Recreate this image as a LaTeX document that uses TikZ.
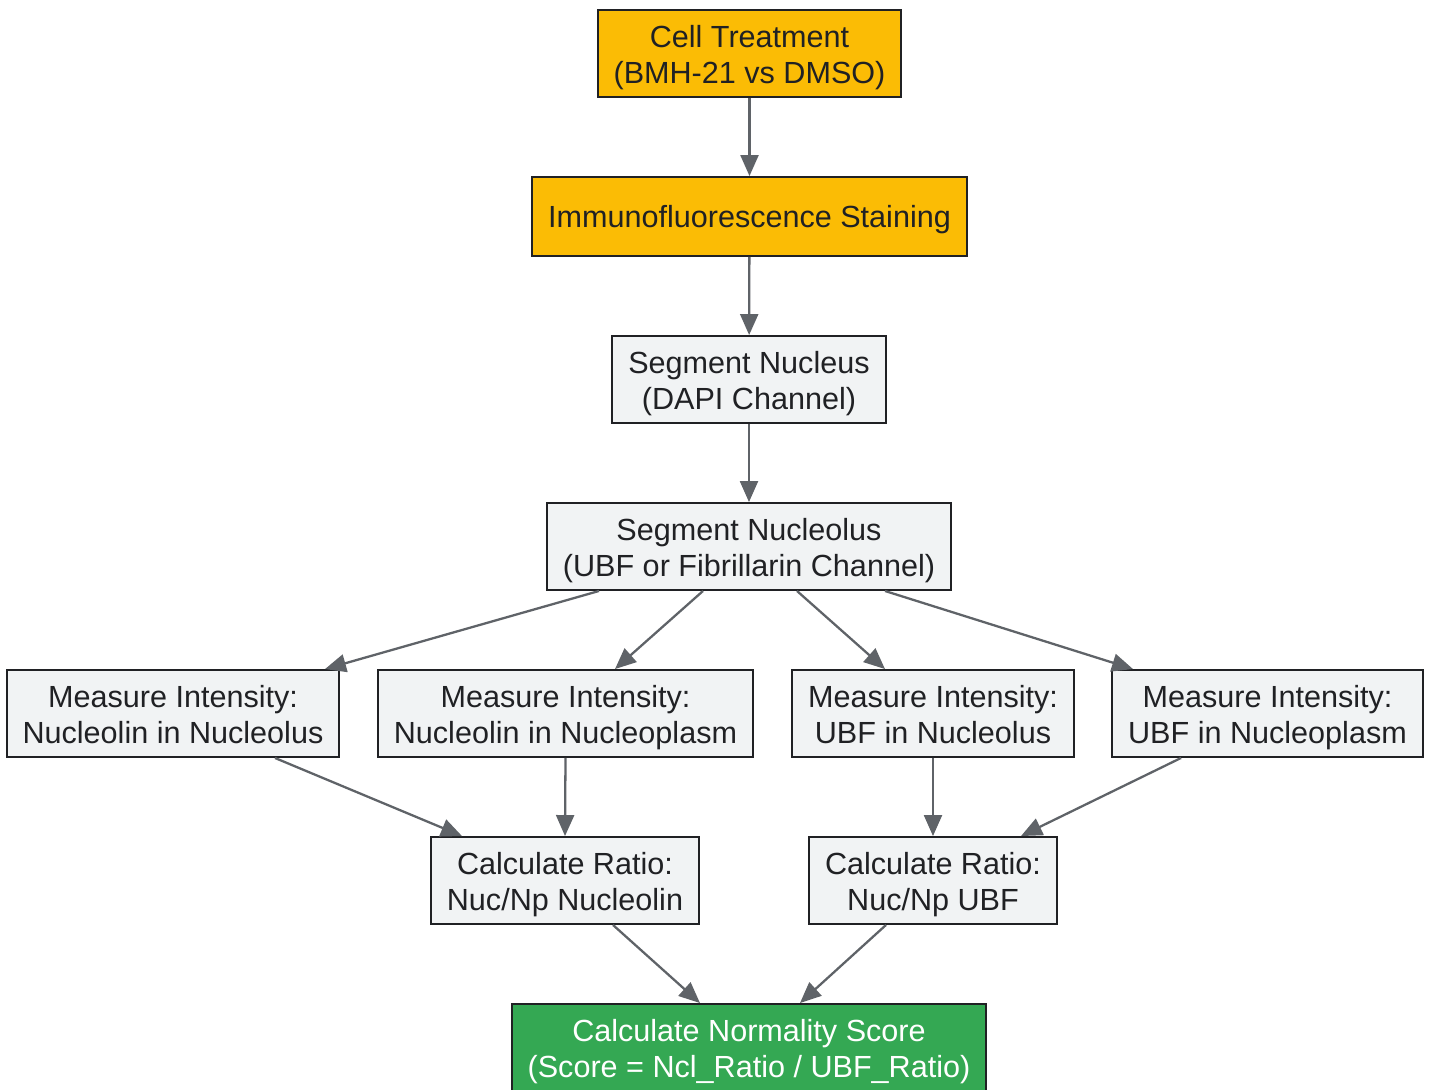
\documentclass[tikz,border=0pt]{standalone}
\usepackage{fontspec}
\setmainfont{Liberation Sans}
\usetikzlibrary{arrows.meta}

\definecolor{stepyellow}{HTML}{FBBC05}
\definecolor{stepgreen}{HTML}{34A853}
\definecolor{stepgray}{HTML}{F1F3F4}
\definecolor{stepline}{HTML}{202124}
\definecolor{flowgray}{HTML}{5F6368}

\tikzset{
    box/.style={draw=stepline, line width=1.1pt, text=stepline, align=center,
        minimum height=1.74cm, inner xsep=0.32cm,
        text height=33.6pt, text depth=0pt,
        font=\fontsize{17.4}{20}\selectfont},
    oneline/.style={minimum height=1.58cm, text height=12.6pt},
    prep/.style={box, fill=stepyellow},
    measure/.style={box, fill=stepgray},
    result/.style={box, fill=stepgreen, text=white},
    flow/.style={draw=flowgray, line width=1.3pt,
        -{Triangle[length=0.42cm, width=0.36cm]}}
}

\begin{document}
\begin{tikzpicture}
        \useasboundingbox (0,0) rectangle (28.62,-21.78);
        \node[prep] (treat) at (14.99,-1.07) {Cell Treatment\\(BMH-21 vs DMSO)};
        \node[prep, oneline] (stain) at (14.99,-4.33) {Immunofluorescence Staining};
        \node[measure] (nucleus) at (14.98,-7.59) {Segment Nucleus\\(DAPI Channel)};
        \node[measure] (nucleolus) at (14.98,-10.93) {Segment Nucleolus\\(UBF or Fibrillarin Channel)};
        \node[measure] (ncl_no) at (3.46,-14.27) {Measure Intensity:\\Nucleolin in Nucleolus};
        \node[measure] (ncl_np) at (11.31,-14.27) {Measure Intensity:\\Nucleolin in Nucleoplasm};
        \node[measure] (ubf_no) at (18.66,-14.27) {Measure Intensity:\\UBF in Nucleolus};
        \node[measure] (ubf_np) at (25.35,-14.27) {Measure Intensity:\\UBF in Nucleoplasm};
        \node[measure] (ncl_ratio) at (11.30,-17.61) {Calculate Ratio:\\Nuc/Np Nucleolin};
        \node[measure] (ubf_ratio) at (18.66,-17.61) {Calculate Ratio:\\Nuc/Np UBF};
        \node[result] (score) at (14.98,-20.95) {Calculate Normality Score\\(Score = Ncl\_Ratio / UBF\_Ratio)};
        \draw[flow] (treat) -- (stain);
        \draw[flow] (stain) -- (nucleus);
        \draw[flow] (nucleus) -- (nucleolus);
        \draw[flow] ([xshift=-3cm]nucleolus.south) -- ([xshift=3.04cm]ncl_no.north);
        \draw[flow] ([xshift=-0.92cm]nucleolus.south) -- ([xshift=0.99cm]ncl_np.north);
        \draw[flow] ([xshift=0.96cm]nucleolus.south) -- ([xshift=-0.96cm]ubf_no.north);
        \draw[flow] ([xshift=2.72cm]nucleolus.south) -- ([xshift=-2.69cm]ubf_np.north);
        \draw[flow] ([xshift=2.04cm]ncl_no.south) -- ([xshift=-2.06cm]ncl_ratio.north);
        \draw[flow] (ncl_np.south) -- (ncl_ratio.north);
        \draw[flow] (ubf_no.south) -- (ubf_ratio.north);
        \draw[flow] ([xshift=-1.73cm]ubf_np.south) -- ([xshift=1.76cm]ubf_ratio.north);
        \draw[flow] ([xshift=0.96cm]ncl_ratio.south) -- ([xshift=-0.98cm]score.north);
        \draw[flow] ([xshift=-0.94cm]ubf_ratio.south) -- ([xshift=1.02cm]score.north);
    \end{tikzpicture}
\end{document}
